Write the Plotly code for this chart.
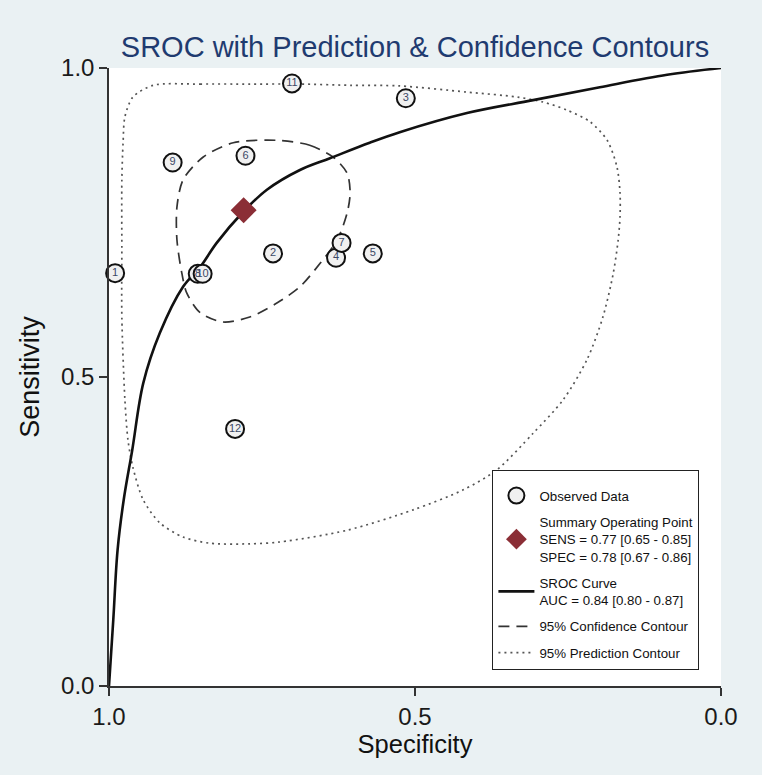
import plotly.graph_objects as go

# ---- data ----
study_ids = ["1", "2", "3", "4", "5", "6", "7", "8", "9", "10", "11", "12"]
study_spec = [0.990, 0.732, 0.515, 0.629, 0.569, 0.777, 0.620, 0.855, 0.896, 0.847, 0.701, 0.794]
study_sens = [0.668, 0.700, 0.951, 0.693, 0.700, 0.858, 0.717, 0.667, 0.847, 0.667, 0.975, 0.416]

summary_spec = [0.78]
summary_sens = [0.77]

sroc_spec = [1.000, 0.993, 0.986, 0.976, 0.962, 0.944, 0.917, 0.879, 0.851, 0.824, 0.781,
             0.742, 0.688, 0.639, 0.574, 0.525, 0.415, 0.307, 0.198, 0.088, 0.000]
sroc_sens = [0.000, 0.107, 0.220, 0.301, 0.382, 0.490, 0.571, 0.646, 0.678, 0.717, 0.767,
             0.803, 0.835, 0.854, 0.879, 0.896, 0.927, 0.948, 0.969, 0.989, 1.000]

conf_spec = [0.725, 0.672, 0.634, 0.611, 0.606, 0.611, 0.627, 0.655, 0.688, 0.725, 0.770,
             0.814, 0.851, 0.873, 0.881, 0.889, 0.889, 0.879, 0.846, 0.797, 0.725]
conf_sens = [0.883, 0.875, 0.856, 0.830, 0.798, 0.765, 0.722, 0.684, 0.646, 0.620, 0.597,
             0.589, 0.604, 0.636, 0.668, 0.722, 0.775, 0.819, 0.856, 0.879, 0.883]

pred_spec = [0.928, 0.851, 0.770, 0.688, 0.606, 0.525, 0.415, 0.333, 0.291, 0.252, 0.214,
             0.186, 0.170, 0.165, 0.165, 0.168, 0.176, 0.193, 0.219, 0.258, 0.307, 0.366,
             0.422, 0.503, 0.611, 0.721, 0.770, 0.835, 0.879, 0.917, 0.944, 0.961, 0.969,
             0.974, 0.979, 0.979, 0.979, 0.977, 0.974, 0.961, 0.928]
pred_sens = [0.972, 0.974, 0.974, 0.974, 0.972, 0.971, 0.961, 0.953, 0.945, 0.932, 0.913,
             0.883, 0.840, 0.798, 0.759, 0.722, 0.668, 0.597, 0.528, 0.463, 0.409, 0.350,
             0.317, 0.285, 0.252, 0.233, 0.230, 0.231, 0.241, 0.264, 0.301, 0.354, 0.398,
             0.463, 0.597, 0.706, 0.819, 0.879, 0.921, 0.953, 0.972]

tick_vals = [1.0, 0.5, 0.0]
tick_text = ["1.0", "0.5", "0.0"]

FONT = "Liberation Sans, Arial, sans-serif"

fig = go.Figure()

fig.add_trace(go.Scatter(
    x=pred_spec, y=pred_sens, mode="lines",
    line=dict(color="#555555", width=1.7, dash="2px,4px", shape="spline", smoothing=0.8),
    name="95% Prediction Contour", legendrank=5, legendgroup="e", hoverinfo="skip"))

fig.add_trace(go.Scatter(
    x=conf_spec, y=conf_sens, mode="lines",
    line=dict(color="#333333", width=1.7, dash="11px,7px", shape="spline", smoothing=0.8),
    name="95% Confidence Contour", legendrank=4, legendgroup="d", hoverinfo="skip"))

fig.add_trace(go.Scatter(
    x=sroc_spec, y=sroc_sens, mode="lines",
    line=dict(color="#111111", width=2.6, shape="spline", smoothing=1.0),
    name="SROC Curve<br>AUC = 0.84 [0.80 - 0.87]", legendrank=3, legendgroup="c",
    hoverinfo="skip"))

fig.add_trace(go.Scatter(
    x=study_spec, y=study_sens, mode="markers",
    marker=dict(size=18, color="#F0F0F0", line=dict(color="#111111", width=2)),
    name="Observed Data", legendrank=1, legendgroup="a", cliponaxis=False))

fig.add_trace(go.Scatter(
    x=study_spec, y=study_sens, mode="text", text=study_ids,
    textposition="middle center",
    textfont=dict(family=FONT, size=11, color="#3b4866"),
    showlegend=False, cliponaxis=False, hoverinfo="skip"))

fig.add_trace(go.Scatter(
    x=summary_spec, y=summary_sens, mode="markers",
    marker=dict(symbol="diamond", size=20, color="#8B2E36"),
    name="Summary Operating Point<br>SENS = 0.77 [0.65 - 0.85]<br>SPEC = 0.78 [0.67 - 0.86]",
    legendrank=2, legendgroup="b", cliponaxis=False))

axis_common = dict(
    tickvals=tick_vals, ticktext=tick_text, ticks="outside", ticklen=8, tickwidth=1.5,
    tickcolor="#333333", showline=True, linecolor="#333333", linewidth=1.5,
    showgrid=False, zeroline=False, tickfont=dict(family=FONT, size=24, color="#1a1a1a"),
    automargin=False,
)

fig.update_layout(
    width=762, height=775,
    margin=dict(l=109, r=41, t=68, b=89),
    paper_bgcolor="#EAF1F3", plot_bgcolor="#FFFFFF",
    font=dict(family=FONT, color="#111111"),
    title=dict(text="SROC with Prediction & Confidence Contours", x=0.5, xref="paper",
               xanchor="center", y=1 - 47 / 775, yref="container", yanchor="middle",
               font=dict(family=FONT, size=29, color="#1F3B70")),
    xaxis=dict(range=[1, 0], title=dict(text="Specificity", font=dict(family=FONT, size=25.5),
                                         standoff=4), **axis_common),
    yaxis=dict(range=[0, 1], title=dict(text="Sensitivity", font=dict(family=FONT, size=27),
                                         standoff=14), **axis_common),
    legend=dict(x=0.626, y=0.3495, xanchor="left", yanchor="top", bgcolor="#FFFFFF",
                bordercolor="#222222", borderwidth=1.3, font=dict(family=FONT, size=13.3),
                itemwidth=36, entrywidth=205, entrywidthmode="pixels",
                title=dict(text=" ", font=dict(family=FONT, size=7)),
                traceorder="grouped", tracegroupgap=6),
    showlegend=True,
)

fig.write_html("out.html", config={"displayModeBar": False},
               post_script="document.body.style.margin='0';document.body.style.overflow='hidden';")
